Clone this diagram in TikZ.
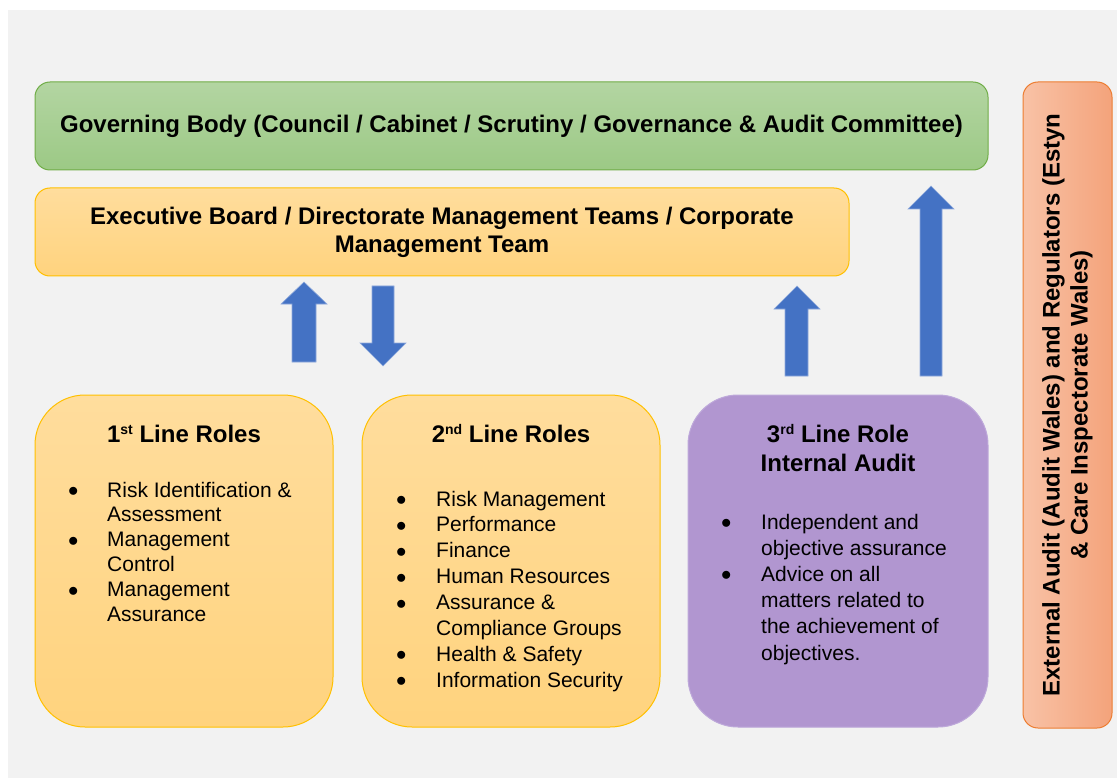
\documentclass[tikz,border=0pt]{standalone}
\usepackage{fontspec}
\setmainfont{Liberation Sans}
\usepackage{tikz}

\definecolor{bggray}{HTML}{F2F2F2}
\definecolor{govtop}{HTML}{B3D5A2}
\definecolor{govbot}{HTML}{9CC985}
\definecolor{govline}{HTML}{70AD47}
\definecolor{exectop}{HTML}{FFDD9D}
\definecolor{execbot}{HTML}{FFD37E}
\definecolor{execline}{HTML}{FFC000}
\definecolor{extleft}{HTML}{F8C2A6}
\definecolor{extright}{HTML}{F4A37B}
\definecolor{extline}{HTML}{ED7D31}
\definecolor{auditfill}{HTML}{B196D0}
\definecolor{auditline}{HTML}{BEA9DA}
\definecolor{arrowblue}{HTML}{4472C4}
\definecolor{arrowedge}{HTML}{8FAADC}

\newcommand{\ordsup}[1]{\raisebox{7.5pt}{\fontsize{14}{14}\selectfont\bfseries #1}}
\newcommand{\listdot}{\raisebox{.5pt}{$\bullet$}}

\begin{document}
\begin{tikzpicture}[x=1pt,y=-1pt,
    panel/.style={draw,line width=1pt,inner sep=0pt,align=center,
      font=\fontsize{24}{28}\selectfont\bfseries},
    govbox/.style={panel,rounded corners=15pt,draw=govline,
      top color=govtop,bottom color=govbot},
    execbox/.style={panel,rounded corners=15pt,draw=execline,
      top color=exectop,bottom color=execbot},
    extbox/.style={panel,rounded corners=15pt,draw=extline,
      left color=extleft,right color=extright},
    linebox/.style={panel,rounded corners=50pt,draw=execline,
      top color=exectop,bottom color=execbot,
      minimum width=298pt,minimum height=332pt},
    auditbox/.style={linebox,draw=auditline,fill=auditfill,
      top color=auditfill,bottom color=auditfill},
    headtext/.style={inner sep=0pt,font=\fontsize{24}{29.5}\selectfont\bfseries},
    listtext/.style={inner sep=0pt,anchor=base west},
    bluearrow/.style={fill=arrowblue,draw=arrowedge,line width=.6pt}]

  \useasboundingbox (0,0) rectangle (1117,778);
  \fill[white] (0,0) rectangle (1117,778);
  \fill[bggray] (8,10) rectangle (1117,778);

  \node[govbox,minimum width=953pt,minimum height=88pt] (gov) at (511.5,126)
    {Governing Body (Council / Cabinet / Scrutiny / Governance \& Audit Committee)};
  \node[execbox,minimum width=814pt,minimum height=88pt] (exec) at (442,232)
    {Executive Board / Directorate Management Teams / Corporate\\Management Team};
  \node[extbox,minimum width=89pt,minimum height=646pt] (ext) at (1067.5,405) {};
  \node[panel,draw=none,rotate=90] (extlabel) at (ext.center)
    {External Audit (Audit Wales) and Regulators (Estyn\\\& Care Inspectorate Wales)};

  \node[linebox] (first) at (184,561) {};
  \node[linebox] (second) at (511,561) {};
  \node[auditbox,minimum width=300pt] (third) at (838,561) {};

  \node[headtext,anchor=base] (firsthead) at (first.center |- 0,442)
    {1\ordsup{st} Line Roles};
  \node[headtext,anchor=base] (secondhead) at (second.center |- 0,442)
    {2\ordsup{nd} Line Roles};
  \node[headtext,anchor=base] (thirdhead) at (third.center |- 0,442)
    {\begin{tabular}[t]{@{}c@{}}3\ordsup{rd} Line Role\\Internal Audit\end{tabular}};

  \node[listtext] (firstlist) at (68,497) {\fontsize{21}{24.9}\selectfont
    \begin{tabular}[t]{@{}p{39pt}@{}l@{}}
      \listdot & Risk Identification \&\\
               & Assessment\\
      \listdot & Management\\
               & Control\\
      \listdot & Management\\
               & Assurance
    \end{tabular}};
  \node[listtext] (secondlist) at (396,506) {\fontsize{21}{25.9}\selectfont
    \begin{tabular}[t]{@{}p{40pt}@{}l@{}}
      \listdot & Risk Management\\
      \listdot & Performance\\
      \listdot & Finance\\
      \listdot & Human Resources\\
      \listdot & Assurance \&\\
               & Compliance Groups\\
      \listdot & Health \& Safety\\
      \listdot & Information Security
    \end{tabular}};
  \node[listtext] (thirdlist) at (721,529) {\fontsize{21}{26.2}\selectfont
    \begin{tabular}[t]{@{}p{40pt}@{}l@{}}
      \listdot & Independent and\\
               & objective assurance\\
      \listdot & Advice on all\\
               & matters related to\\
               & the achievement of\\
               & objectives.
    \end{tabular}};

  \draw[bluearrow] (292,362) -- (292,304) -- (281,304) -- (304,282)
    -- (327,304) -- (316,304) -- (316,362) -- cycle;
  \draw[bluearrow] (372,286) -- (372,343) -- (360,343) -- (383,366)
    -- (406,343) -- (394,343) -- (394,286) -- cycle;
  \draw[bluearrow] (785,376) -- (785,309) -- (774,309) -- (797,286)
    -- (820,309) -- (808,309) -- (808,376) -- cycle;
  \draw[bluearrow] (920,376) -- (920,209) -- (908,209) -- (931,186)
    -- (954,209) -- (942,209) -- (942,376) -- cycle;
\end{tikzpicture}
\end{document}
